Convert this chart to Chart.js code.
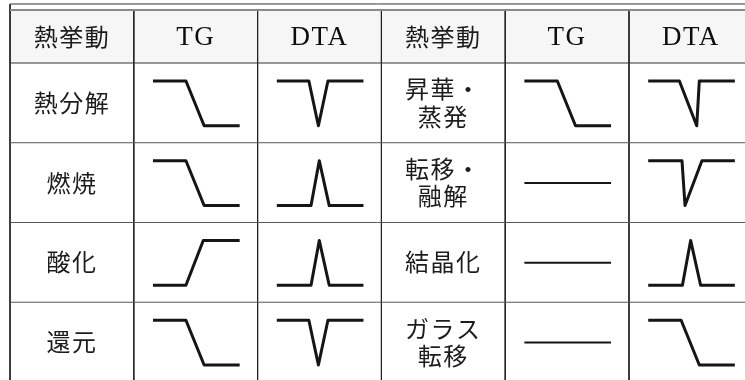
<!DOCTYPE html>
<html>
<head>
<meta charset="utf-8">
<script src="https://cdn.jsdelivr.net/npm/chart.js@4.4.0/dist/chart.umd.min.js"></script>
<style>
  html, body { margin: 0; padding: 0; background: #fff; }
  #wrap { width: 745px; height: 380px; position: relative; }
</style>
</head>
<body>
<div id="wrap"><canvas id="c"></canvas></div>
<script>
// table text
const headers = ['熱挙動', 'TG', 'DTA', '熱挙動', 'TG', 'DTA'];
const leftLabels = [['熱分解'], ['燃焼'], ['酸化'], ['還元']];
const rightLabels = [['昇華・', '蒸発'], ['転移・', '融解'], ['結晶化'], ['ガラス', '転移']];

// which curve goes in which cell (rows top to bottom)
const leftTG = ['down', 'down', 'up', 'down'];
const leftDTA = ['dip', 'peak', 'peak', 'dip'];
const rightTG = ['down', 'flat', 'flat', 'flat'];
const rightDTA = ['dipSlant', 'dipSteep', 'peak', 'down'];

// curve shapes: x runs 0..1 along the cell, y 0 = low, 1 = high
const downX = [0, 0.38, 0.59, 1];
const downY = [1, 1, 0, 0];
const upX = [0, 0.38, 0.58, 1];
const upY = [0, 0, 1, 1];
const dipX = [0, 0.37, 0.48, 0.59, 1];
const dipY = [1, 1, 0, 1, 1];
const dipSlantX = [0, 0.36, 0.56, 0.59, 1];
const dipSteepX = [0, 0.39, 0.425, 0.62, 1];
const peakX = [0, 0.395, 0.49, 0.605, 1];
const peakY = [0, 0, 1, 0, 0];
const flatX = [0, 1];
const flatY = [0.5, 0.5];

const shapes = {
  down: [downX, downY],
  up: [upX, upY],
  dip: [dipX, dipY],
  dipSlant: [dipSlantX, dipY],
  dipSteep: [dipSteepX, dipY],
  peak: [peakX, peakY],
  flat: [flatX, flatY]
};

// table units: one column = 1, one body row = 1, header row sits at -0.665..0
const X_MIN = -0.081, X_MAX = 5.937;
const Y_MIN = -0.79, Y_MAX = 3.975;
const HEAD_TOP = -0.665, TOP_RULE = -0.74;
const INSET = 0.155, GLYPH_W = 0.7;
const GLYPH_TOP = 0.225, GLYPH_H = 0.5625;

const ink = '#151515';
const datasets = [];

function rule(pts, color, w) {
  datasets.push({
    data: pts, showLine: true, borderColor: color, borderWidth: w,
    pointRadius: 0, tension: 0, order: 2
  });
}

// horizontal rules
rule([{x: 0, y: TOP_RULE}, {x: X_MAX, y: TOP_RULE}], '#333', 1);
rule([{x: 0, y: HEAD_TOP}, {x: X_MAX, y: HEAD_TOP}], '#8a8a8a', 2);
rule([{x: 0, y: 0}, {x: X_MAX, y: 0}], '#333', 1);
[1, 2, 3].forEach(r => rule([{x: 0, y: r}, {x: X_MAX, y: r}], '#555', 1));
// vertical rules
rule([{x: 0, y: TOP_RULE}, {x: 0, y: Y_MAX}], '#222', 1);
[1, 2, 3, 4, 5].forEach(c => rule([{x: c, y: HEAD_TOP}, {x: c, y: Y_MAX}], '#222', 1));

function addCurve(col, row, kind) {
  const [sx, sy] = shapes[kind];
  datasets.push({
    data: sx.map((v, i) => ({
      x: col + INSET + v * GLYPH_W,
      y: row + GLYPH_TOP + (1 - sy[i]) * GLYPH_H
    })),
    showLine: true, borderColor: ink, borderWidth: kind === 'flat' ? 2 : 3,
    borderJoinStyle: 'round', borderCapStyle: 'butt',
    pointRadius: 0, tension: 0, order: 1
  });
}

for (let r = 0; r < 4; r++) {
  addCurve(1, r, leftTG[r]);
  addCurve(2, r, leftDTA[r]);
  addCurve(4, r, rightTG[r]);
  addCurve(5, r, rightDTA[r]);
}

const CJK = '"Noto Sans CJK JP", "Noto Sans CJK SC", sans-serif';
const SERIF = '"Liberation Serif", "DejaVu Serif", serif';

const tablePlugin = {
  id: 'tableText',
  beforeDatasetsDraw(chart) {
    const {ctx, scales: {x, y}} = chart;
    ctx.save();
    ctx.fillStyle = '#f6f6f6';
    const x0 = x.getPixelForValue(0), x1 = x.getPixelForValue(X_MAX);
    const y0 = y.getPixelForValue(HEAD_TOP), y1 = y.getPixelForValue(0);
    ctx.fillRect(x0, y0, x1 - x0, y1 - y0);
    ctx.restore();
  },
  afterDatasetsDraw(chart) {
    const {ctx, scales: {x, y}} = chart;
    ctx.save();
    ctx.fillStyle = '#1c1c1c';
    ctx.textAlign = 'center';
    ctx.textBaseline = 'middle';
    const headY = y.getPixelForValue(HEAD_TOP / 2);
    headers.forEach((h, c) => {
      const isLatin = /^[A-Z]+$/.test(h);
      ctx.fillStyle = isLatin ? '#0d0d0d' : '#1c1c1c';
      ctx.font = isLatin ? '27px ' + SERIF : '24px ' + CJK;
      ctx.letterSpacing = isLatin ? '1.5px' : '1.5px';
      ctx.fillText(h, x.getPixelForValue(c + 0.5), headY + (isLatin ? 1 : 0));
    });
    ctx.fillStyle = '#1c1c1c';
    ctx.font = '24px ' + CJK;
    ctx.letterSpacing = '1.5px';
    const drawLabel = (lines, col, row) => {
      const cx = x.getPixelForValue(col + 0.5);
      lines.forEach((s, i) => {
        const off = (i - (lines.length - 1) / 2) * 0.34;
        ctx.fillText(s, cx, y.getPixelForValue(row + 0.5 + off));
      });
    };
    leftLabels.forEach((l, r) => drawLabel(l, 0, r));
    rightLabels.forEach((l, r) => drawLabel(l, 3, r));
    ctx.restore();
  }
};

new Chart(document.getElementById('c'), {
  type: 'scatter',
  data: {datasets},
  options: {
    responsive: true,
    maintainAspectRatio: false,
    animation: false,
    devicePixelRatio: 1,
    layout: {padding: 0},
    plugins: {legend: {display: false}, tooltip: {enabled: false}},
    scales: {
      x: {type: 'linear', display: false, min: X_MIN, max: X_MAX},
      y: {type: 'linear', display: false, min: Y_MIN, max: Y_MAX, reverse: true}
    }
  },
  plugins: [tablePlugin]
});
</script>
</body>
</html>
